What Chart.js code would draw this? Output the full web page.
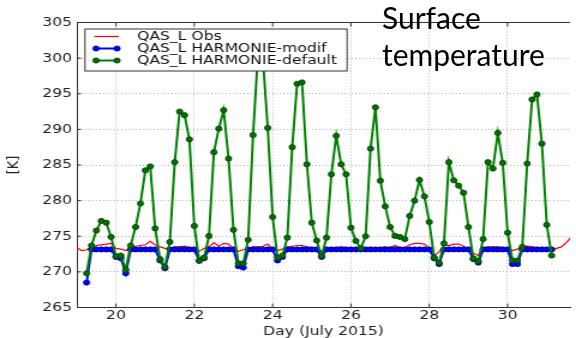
<!DOCTYPE html>
<html>
<head>
<meta charset="utf-8">
<script src="https://cdn.jsdelivr.net/npm/chart.js@4/dist/chart.umd.min.js"></script>
<style>
html, body { margin: 0; padding: 0; background: #fff; overflow: hidden; }
/* the original figure was pasted stretched sideways, so the canvas is too */
#wrap { position: absolute; left: 0; top: 0; width: 480px; height: 338px; transform: scaleX(1.2); transform-origin: 0 0; }
#note { position: absolute; left: 382px; top: -1px; font-family: Lato, sans-serif; font-size: 30px; line-height: 37.4px; color: #000; }
</style>
</head>
<body>
<div id="wrap"><canvas id="chart-surface-temp"></canvas></div>
<div id="note">Surface<br>temperature</div>
<script>
const chartSurfaceTempElement = document.getElementById('chart-surface-temp');
let chartSurfaceTemp;

const modelStartDay = 19.25;
const obsStartDay = 19.0;
const stepDays = 0.125; // 3-hourly
const xTicks = [20, 22, 24, 26, 28, 30];
const yTicks = [265, 270, 275, 280, 285, 290, 295, 300, 305];

const obsValues = [
    273.4, 273.0, 273.1, 273.5, 273.7, 273.8, 273.9, 274.0,
    273.3, 273.2, 273.0, 273.4, 273.6, 273.7, 273.8, 274.3,
    273.8, 273.5, 273.3, 273.3, 273.5, 273.5, 273.6, 273.4,
    273.0, 272.9, 273.3, 273.5, 274.1, 273.6, 274.0, 273.9,
    273.3, 272.9, 273.1, 273.3, 273.5, 273.5, 273.6, 273.9,
    273.2, 273.0, 273.2, 273.5, 273.6, 273.7, 273.7, 273.5,
    273.4, 273.3, 272.9, 273.3, 273.4, 273.4, 273.5, 273.4,
    273.3, 273.3, 273.2, 273.3, 273.4, 273.4, 273.4, 273.5,
    273.4, 273.7, 273.4, 273.4, 273.8, 274.0, 274.0, 273.9,
    273.3, 272.3, 272.8, 273.8, 273.7, 273.9, 273.9, 273.6,
    273.3, 272.6, 272.3, 273.4, 273.5, 273.5, 273.5, 273.4,
    273.3, 273.0, 273.2, 273.5, 273.6, 273.5, 273.4, 273.3,
    273.3, 273.0, 273.3, 273.5, 274.1, 274.9
];

const modifValues = [
    268.5, 273.15, 273.15, 273.15, 273.15, 273.15,
    272.1, 271.9, 269.8, 273.15, 273.15, 273.15, 273.15, 273.15,
    273.15, 271.6, 270.5, 273.15, 273.15, 273.15, 273.15, 273.15,
    273.15, 271.55, 271.9, 273.15, 273.15, 273.15, 273.15, 273.15,
    273.15, 270.8, 270.6, 273.15, 273.15, 273.15, 273.15, 273.15,
    273.15, 271.6, 272.1, 273.15, 273.15, 273.15, 273.15, 273.15,
    273.15, 273.15, 272.1, 273.15, 273.15, 273.15, 273.15, 273.15,
    273.15, 273.15, 273.15, 273.15, 273.15, 273.15, 273.15, 273.15,
    273.15, 273.15, 273.15, 273.15, 273.15, 273.15, 273.15, 273.15,
    273.15, 271.9, 271.1, 273.15, 273.15, 273.15, 273.15, 273.15,
    273.15, 271.8, 271.3, 273.15, 273.15, 273.15, 273.15, 273.15,
    273.15, 271.1, 271.1, 273.15, 273.15, 273.15, 273.15, 273.15,
    273.15, 273.15
];

const defaultValues = [
    269.8, 273.7, 275.8, 277.15, 276.9, 274.9,
    272.2, 272.3, 270.3, 273.7, 276.3, 279.6, 284.25, 284.8,
    276.1, 271.8, 270.7, 274.2, 285.4, 292.5, 292.0, 288.6,
    276.45, 271.6, 272.0, 275.05, 286.8, 290.1, 292.7, 285.9,
    275.9, 271.2, 271.2, 274.5, 289.2, 300.5, 300.0, 290.2,
    277.7, 272.0, 272.3, 274.8, 287.5, 296.4, 296.6, 285.1,
    276.9, 274.4, 272.2, 274.8, 283.7, 289.1, 285.1, 283.7,
    276.2, 274.35, 273.3, 275.0, 287.3, 293.1, 282.8, 279.2,
    276.3, 275.05, 274.9, 274.6, 277.85, 280.0, 282.9, 280.6,
    277.0, 272.0, 271.3, 274.0, 285.4, 282.85, 282.1, 281.1,
    276.3, 271.9, 271.5, 274.6, 285.4, 284.5, 289.5, 285.3,
    275.5, 271.6, 271.6, 273.5, 285.2, 294.2, 294.9, 288.0,
    276.6, 272.3
];

function toPoints(startDay, values) {
    return values.map(function (v, i) {
        return { x: startDay + i * stepDays, y: v };
    });
}

// top spine and the small inward ticks
const framePlugin = {
    id: 'frame',
    afterDatasetsDraw(chart) {
        const ctx = chart.ctx;
        const a = chart.chartArea;
        const x = chart.scales.x;
        const y = chart.scales.y;
        ctx.save();
        ctx.strokeStyle = '#333';
        ctx.lineWidth = 1;
        ctx.beginPath();
        ctx.moveTo(a.left, a.top);
        ctx.lineTo(a.right, a.top);
        xTicks.forEach(function (v) {
            const px = x.getPixelForValue(v);
            ctx.moveTo(px, a.top);
            ctx.lineTo(px, a.top + 4);
            ctx.moveTo(px, a.bottom);
            ctx.lineTo(px, a.bottom - 4);
        });
        yTicks.forEach(function (v) {
            const py = y.getPixelForValue(v);
            ctx.moveTo(a.left, py);
            ctx.lineTo(a.left + 3.5, py);
        });
        ctx.stroke();
        ctx.restore();
    }
};

// legend box sitting inside the plot, over the lines
const legendBoxPlugin = {
    id: 'legendBox',
    afterDatasetsDraw(chart) {
        const ctx = chart.ctx;
        ctx.save();
        ctx.fillStyle = '#fff';
        ctx.fillRect(70.8, 29, 218.4, 42);
        ctx.strokeStyle = '#333';
        ctx.lineWidth = 1;
        ctx.strokeRect(70.8, 29, 218.4, 42);
        chart.data.datasets.forEach(function (ds, i) {
            const ly = 36.5 + i * 12;
            ctx.strokeStyle = ds.borderColor;
            ctx.lineWidth = ds.borderWidth;
            ctx.beginPath();
            ctx.moveTo(78.5, ly);
            ctx.lineTo(99, ly);
            ctx.stroke();
            if (ds.pointRadius > 0) {
                [80, 97.5].forEach(function (mx) {
                    ctx.beginPath();
                    ctx.arc(mx, ly, ds.pointRadius, 0, Math.PI * 2);
                    ctx.fillStyle = ds.pointBackgroundColor;
                    ctx.fill();
                    ctx.lineWidth = ds.pointBorderWidth;
                    ctx.strokeStyle = ds.pointBorderColor;
                    ctx.stroke();
                });
            }
            ctx.fillStyle = '#111';
            ctx.font = '13px "DejaVu Sans"';
            ctx.textBaseline = 'middle';
            ctx.textAlign = 'left';
            ctx.fillText(ds.label, 114.2, ly + 0.5);
        });
        ctx.restore();
    }
};

function initChart_SurfaceTemp() {
    Chart.defaults.font.family = '"DejaVu Sans", sans-serif';
    chartSurfaceTemp = new Chart(chartSurfaceTempElement, {
        type: 'line',
        data: {
            datasets: [{
                label: 'QAS_L Obs',
                data: toPoints(obsStartDay, obsValues),
                borderColor: '#ff0000',
                borderWidth: 1.2,
                pointRadius: 0,
                order: 3
            },
            {
                label: 'QAS_L HARMONIE-modif',
                data: toPoints(modelStartDay, modifValues),
                borderColor: '#0000ff',
                borderWidth: 2,
                pointRadius: 2.6,
                pointBackgroundColor: '#0000ff',
                pointBorderColor: '#0000a0',
                pointBorderWidth: 0.8,
                order: 2
            },
            {
                label: 'QAS_L HARMONIE-default',
                data: toPoints(modelStartDay, defaultValues),
                borderColor: '#008000',
                borderWidth: 2,
                pointRadius: 2.6,
                pointBackgroundColor: '#007000',
                pointBorderColor: '#004000',
                pointBorderWidth: 0.8,
                order: 1
            }
            ]
        },
        options: {
            responsive: true,
            maintainAspectRatio: false,
            animation: false,
            layout: {
                padding: { top: 22.5, right: 0, bottom: 0, left: 0 }
            },
            plugins: {
                legend: { display: false },
                tooltip: { enabled: false }
            },
            scales: {
                x: {
                    type: 'linear',
                    min: 19,
                    max: 31.6,
                    afterBuildTicks: function (axis) {
                        axis.ticks = xTicks.map(function (v) { return { value: v }; });
                    },
                    afterFit: function (axis) {
                        axis.height = 30.5;
                    },
                    ticks: {
                        color: '#222',
                        padding: 0,
                        maxRotation: 0,
                        autoSkip: false,
                        font: { size: 13 }
                    },
                    grid: {
                        color: '#b5b5b5',
                        drawTicks: false
                    },
                    border: {
                        color: '#333',
                        dash: [1, 2]
                    },
                    title: {
                        display: true,
                        text: 'Day (July 2015)',
                        color: '#222',
                        font: { size: 13, lineHeight: 1 },
                        padding: { top: 0, bottom: 0 }
                    }
                },
                y: {
                    min: 265,
                    max: 305,
                    afterBuildTicks: function (axis) {
                        axis.ticks = yTicks.map(function (v) { return { value: v }; });
                    },
                    afterFit: function (axis) {
                        axis.width = 64;
                    },
                    ticks: {
                        color: '#222',
                        padding: 4,
                        font: { size: 13 }
                    },
                    grid: {
                        color: '#b5b5b5',
                        drawTicks: false
                    },
                    border: {
                        color: '#333',
                        dash: [1, 2]
                    },
                    title: {
                        display: true,
                        text: '[K]',
                        color: '#222',
                        font: { size: 13 },
                        padding: { top: 4, bottom: 0 }
                    }
                }
            }
        },
        plugins: [framePlugin, legendBoxPlugin]
    });
}

initChart_SurfaceTemp();
</script>
</body>
</html>
